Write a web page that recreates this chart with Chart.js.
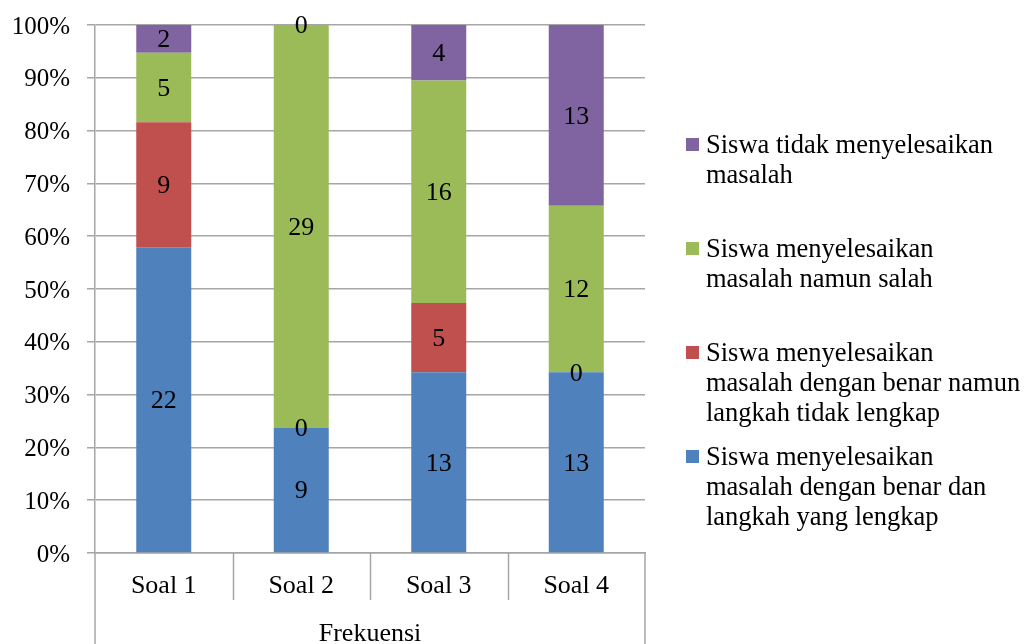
<!DOCTYPE html>
<html>
<head>
<meta charset="utf-8">
<title>Frekuensi</title>
<script src="https://cdn.jsdelivr.net/npm/chart.js@4.4.1/dist/chart.umd.min.js"></script>
<style>
  html, body { margin: 0; padding: 0; background: #fff; }
  #chart { display: block; }
</style>
</head>
<body>
<canvas id="chart" width="1024" height="644"></canvas>
<script>
// categories and counts per question
const categories = ['Soal 1', 'Soal 2', 'Soal 3', 'Soal 4'];
const benarLengkap = [22, 9, 13, 13];
const benarTidakLengkap = [9, 0, 5, 0];
const salah = [5, 29, 16, 12];
const tidakSelesai = [2, 0, 4, 13];
const yTicks = [0, 10, 20, 30, 40, 50, 60, 70, 80, 90, 100];
const axisTitle = 'Frekuensi';

const FONT = '"Liberation Serif", "Times New Roman", serif';
const GRID = '#a6a6a6';

const totals = categories.map((c, i) =>
    benarLengkap[i] + benarTidakLengkap[i] + salah[i] + tidakSelesai[i]);
const pct = arr => arr.map((v, i) => v / totals[i] * 100);

function series(label, counts, color) {
    return {
        label: label,
        counts: counts,
        data: pct(counts),
        backgroundColor: color,
        borderWidth: 0,
        categoryPercentage: 1,
        barPercentage: 0.4
    };
}

// count labels in the middle of each segment
const valueLabels = {
    id: 'valueLabels',
    afterDatasetsDraw(chart) {
        const ctx = chart.ctx;
        ctx.save();
        ctx.font = '26px ' + FONT;
        ctx.fillStyle = '#000';
        ctx.textAlign = 'center';
        ctx.textBaseline = 'middle';
        chart.data.datasets.forEach((ds, di) => {
            chart.getDatasetMeta(di).data.forEach((bar, i) => {
                ctx.fillText(String(ds.counts[i]), bar.x, (bar.y + bar.base) / 2 + 1.5);
            });
        });
        ctx.restore();
    }
};

// two-level category axis: separators, outer lines, and title
const categoryFrame = {
    id: 'categoryFrame',
    afterDraw(chart) {
        const ctx = chart.ctx;
        const a = chart.chartArea;
        const step = (a.right - a.left) / categories.length;
        ctx.save();
        ctx.strokeStyle = GRID;
        ctx.lineWidth = 1.5;
        ctx.beginPath();
        for (let i = 1; i < categories.length; i++) {
            const px = Math.round(a.left + step * i) + 0.5;
            ctx.moveTo(px, a.bottom);
            ctx.lineTo(px, a.bottom + 47);
        }
        ctx.moveTo(a.left, a.bottom);
        ctx.lineTo(a.left, chart.height);
        ctx.moveTo(a.right, a.bottom);
        ctx.lineTo(a.right, chart.height);
        ctx.stroke();
        ctx.font = '26px ' + FONT;
        ctx.fillStyle = '#000';
        ctx.textAlign = 'center';
        ctx.textBaseline = 'middle';
        ctx.fillText(axisTitle, (a.left + a.right) / 2, a.bottom + 81);
        ctx.restore();
    }
};

// legend on the right, top entry is the top segment
const sideLegend = {
    id: 'sideLegend',
    afterDraw(chart) {
        const ctx = chart.ctx;
        const a = chart.chartArea;
        const sets = chart.data.datasets.slice().reverse();
        const mx = a.right + 41;
        ctx.save();
        ctx.font = '26.5px ' + FONT;
        ctx.textBaseline = 'middle';
        ctx.textAlign = 'left';
        sets.forEach((ds, k) => {
            const y0 = 145 + k * 104;
            ctx.fillStyle = ds.backgroundColor;
            ctx.fillRect(mx, y0 - 7, 13, 13);
            ctx.fillStyle = '#000';
            ds.label.forEach((line, j) => {
                ctx.fillText(line, mx + 20, y0 + j * 30 + 1);
            });
        });
        ctx.restore();
    }
};

new Chart(document.getElementById('chart'), {
    type: 'bar',
    data: {
        labels: categories,
        datasets: [
            series(['Siswa menyelesaikan', 'masalah dengan benar dan', 'langkah yang lengkap'], benarLengkap, '#4f81bd'),
            series(['Siswa menyelesaikan', 'masalah dengan benar namun', 'langkah tidak lengkap'], benarTidakLengkap, '#c0504d'),
            series(['Siswa menyelesaikan', 'masalah namun salah'], salah, '#9bbb59'),
            series(['Siswa tidak menyelesaikan', 'masalah'], tidakSelesai, '#8064a2')
        ]
    },
    options: {
        responsive: false,
        animation: false,
        layout: { padding: { top: 25, right: 379, left: 0, bottom: 0 } },
        plugins: {
            legend: { display: false },
            tooltip: { enabled: false }
        },
        scales: {
            x: {
                stacked: true,
                grid: { display: false },
                border: { display: true, color: GRID, width: 1.5 },
                ticks: { color: '#000', font: { family: FONT, size: 26 }, padding: 10 },
                afterFit(scale) {
                    scale.height = 91;
                    scale.paddingLeft = 0;
                    scale.paddingRight = 0;
                }
            },
            y: {
                stacked: true,
                min: 0,
                max: 100,
                afterBuildTicks(scale) { scale.ticks = yTicks.map(v => ({ value: v })); },
                grid: { color: GRID, lineWidth: 1.5, tickLength: 8 },
                border: { display: true, color: GRID, width: 1.5 },
                ticks: {
                    color: '#000',
                    font: { family: FONT, size: 25 },
                    padding: 17,
                    labelOffset: 2,
                    callback: v => v + '%'
                },
                afterFit(scale) {
                    scale.width = 95;
                    scale.paddingTop = 0;
                    scale.paddingBottom = 0;
                }
            }
        }
    },
    plugins: [valueLabels, categoryFrame, sideLegend]
});
</script>
</body>
</html>
